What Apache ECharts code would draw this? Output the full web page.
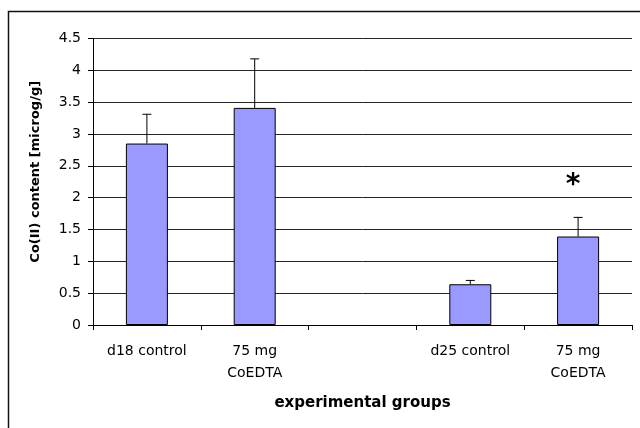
<!DOCTYPE html>
<html>
<head>
<meta charset="utf-8">
<script src="https://cdn.jsdelivr.net/npm/echarts@6/dist/echarts.min.js"></script>
<style>html,body{margin:0;padding:0;background:#fff}#c{width:640px;height:428px}</style>
</head>
<body>
<div id="c"></div>
<script>
const categories = ['d18 control', '75 mg\nCoEDTA', '', 'd25 control', '75 mg\nCoEDTA'];
const means = [2.85, 3.41, null, 0.64, 1.39];
const upper = [3.31, 4.18, null, 0.70, 1.69];
const significance = ['', '', '', '', '*'];
const yTicks = { min: 0, max: 4.5, interval: 0.5 };

const chart = echarts.init(document.getElementById('c'));
const errData = categories.map((c, i) => means[i] == null ? null : [i, means[i], upper[i], significance[i]]).filter(d => d);

chart.setOption({
  animation: false,
  backgroundColor: '#fff',
  graphic: [{
    type: 'rect', silent: true, z: -1,
    shape: { x: 8.5, y: 11.5, width: 700, height: 500 },
    style: { fill: null, stroke: '#111', lineWidth: 1.5 }
  }],
  grid: { left: 93, right: 8, top: 38.5, bottom: 103, containLabel: false },
  xAxis: {
    type: 'category',
    data: categories,
    boundaryGap: true,
    name: 'experimental groups',
    nameLocation: 'middle',
    nameGap: 71,
    nameTextStyle: { fontFamily: 'DejaVu Sans', fontWeight: 'bold', fontSize: 15, color: '#000', lineHeight: 14 },
    axisLine: { lineStyle: { color: '#000', width: 1 } },
    axisTick: { show: true, alignWithLabel: false, length: 5, lineStyle: { color: '#000' } },
    axisLabel: { fontFamily: 'DejaVu Sans', fontSize: 14, color: '#000', lineHeight: 22, margin: 15, interval: 0 },
    splitLine: { show: false }
  },
  yAxis: {
    type: 'value',
    min: yTicks.min, max: yTicks.max, interval: yTicks.interval,
    name: 'Co(II) content [microg/g]',
    nameLocation: 'middle',
    nameGap: 51,
    nameTextStyle: { fontFamily: 'DejaVu Sans', fontWeight: 'bold', fontSize: 13, color: '#000', padding: [0, 0, 0, 20] },
    axisLine: { show: true, lineStyle: { color: '#000', width: 1 } },
    axisTick: { show: true, length: 5, lineStyle: { color: '#000' } },
    axisLabel: { fontFamily: 'DejaVu Sans', fontSize: 14, color: '#000', margin: 12 },
    splitLine: { show: true, lineStyle: { color: '#222', width: 1 } }
  },
  series: [{
    type: 'bar',
    data: means.map(v => v == null ? '-' : v),
    barWidth: 42,
    itemStyle: { color: '#9999FF', borderColor: '#000', borderWidth: 1 },
    z: 2
  }, {
    type: 'custom',
    data: errData,
    z: 3,
    renderItem: function (params, api) {
      const x = api.value(0);
      const base = api.coord([x, api.value(1)]);
      const top = api.coord([x, api.value(2)]);
      const sig = api.value(3);
      const children = [
        { type: 'line', shape: { x1: base[0], y1: base[1], x2: top[0], y2: top[1] }, style: { stroke: '#000', lineWidth: 1 } },
        { type: 'line', shape: { x1: top[0] - 4.5, y1: top[1], x2: top[0] + 4.5, y2: top[1] }, style: { stroke: '#000', lineWidth: 1 } }
      ];
      if (sig) {
        children.push({ type: 'text', style: { text: sig, x: top[0] - 5, y: top[1] - 32, align: 'center', verticalAlign: 'middle', font: 'bold 28px "DejaVu Sans"', fill: '#000' } });
      }
      return { type: 'group', children: children };
    }
  }]
});
</script>
</body>
</html>
